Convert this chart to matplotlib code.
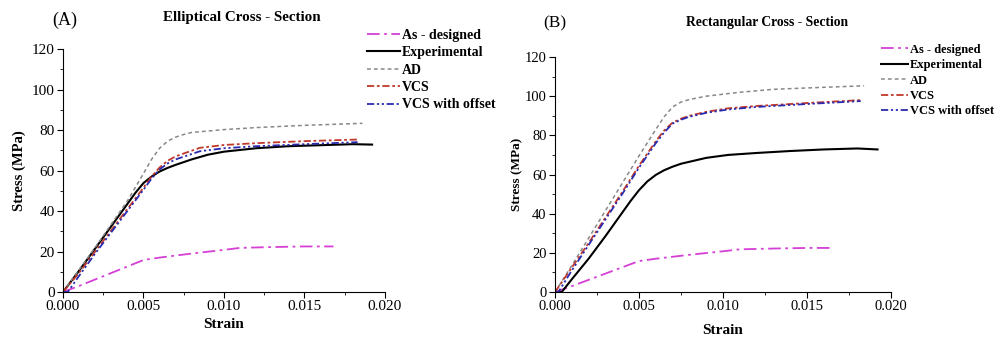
import matplotlib
matplotlib.use("Agg")
import matplotlib.pyplot as plt
from matplotlib.ticker import MultipleLocator, FormatStrFormatter

plt.rcParams['font.family'] = ['Liberation Serif', 'DejaVu Serif']

# ---- panel A : elliptical cross-section ----
a_des_x = [0, 0.001, 0.002, 0.003, 0.004, 0.005, 0.006, 0.008, 0.010, 0.011, 0.013, 0.015, 0.0168]
a_des_y = [0, 3, 6.2, 9.4, 12.6, 15.8, 17, 19, 20.8, 21.8, 22.2, 22.5, 22.5]
a_exp_x = [0, 0.001, 0.002, 0.003, 0.004, 0.0045, 0.005, 0.0055, 0.006, 0.0065, 0.007, 0.008, 0.009, 0.010,
           0.012, 0.014, 0.016, 0.018, 0.0192]
a_exp_y = [0, 10.5, 21.5, 32.5, 43.5, 49, 53.8, 57, 59.5, 61.3, 62.8, 65.5, 67.8, 69.3,
           71, 72, 72.5, 73, 72.8]
a_ad_x = [0, 0.002, 0.004, 0.005, 0.0055, 0.006, 0.0065, 0.007, 0.0075, 0.008, 0.010, 0.012, 0.015, 0.0186]
a_ad_y = [0, 22, 45, 58.5, 65.5, 71, 74.5, 76.5, 77.8, 78.8, 80.2, 81.2, 82.3, 83.3]
a_vcs_x = [0, 0.001, 0.002, 0.003, 0.004, 0.005, 0.0055, 0.006, 0.0065, 0.007, 0.0085, 0.010,
           0.012, 0.015, 0.0183]
a_vcs_y = [0, 9.5, 20, 30.5, 41, 51.5, 57, 61.5, 64.8, 67, 71.2, 72.6, 73.5, 74.5, 75.3]
a_off_x = [0, 0.0003, 0.001, 0.002, 0.003, 0.004, 0.005, 0.0055, 0.006, 0.0065, 0.007, 0.0085, 0.010,
           0.012, 0.015, 0.0183]
a_off_y = [0, 0, 8, 19, 29.5, 40, 50.5, 56, 60.5, 63.5, 65.5, 69.5, 71, 72, 73, 74]

# ---- panel B : rectangular cross-section ----
b_des_x = [0, 0.001, 0.002, 0.003, 0.004, 0.005, 0.006, 0.008, 0.010, 0.011, 0.013, 0.015, 0.0165]
b_des_y = [0, 3, 6.2, 9.4, 12.6, 15.8, 17, 19, 20.8, 21.8, 22.2, 22.5, 22.5]
b_exp_x = [0, 0.0004, 0.001, 0.002, 0.003, 0.004, 0.0045, 0.005, 0.0055, 0.006, 0.0065, 0.007, 0.0075,
           0.009, 0.0103, 0.012, 0.014, 0.016, 0.018, 0.0192]
b_exp_y = [0, 0, 6.5, 17, 28.5, 40.5, 46.5, 52, 56.5, 59.8, 62.2, 64, 65.5, 68.5, 70, 71, 72,
           72.8, 73.3, 72.8]
b_ad_x = [0, 0.001, 0.002, 0.003, 0.004, 0.005, 0.006, 0.0065, 0.007, 0.0075, 0.008, 0.009, 0.011,
          0.013, 0.015, 0.0184]
b_ad_y = [0, 13.5, 27.5, 41.5, 55.5, 69.5, 83, 89.5, 94.5, 97, 98.3, 100, 102, 103.5, 104.2, 105.3]
b_vcs_x = [0, 0.001, 0.002, 0.003, 0.004, 0.005, 0.006, 0.0065, 0.007, 0.0075, 0.008, 0.009, 0.0103,
           0.012, 0.015, 0.0182]
b_vcs_y = [0, 12.5, 25, 38, 51, 64.5, 77, 82.5, 86.5, 88.5, 90, 92, 93.8, 95, 96.5, 98]
b_off_x = [0, 0.0002, 0.001, 0.002, 0.003, 0.004, 0.005, 0.006, 0.0065, 0.007, 0.0075, 0.008, 0.009,
           0.0103, 0.012, 0.015, 0.0182]
b_off_y = [0, 0, 11, 24, 37, 50, 63.5, 76, 81.5, 86, 88, 89.5, 91.5, 93.2, 94.5, 96, 97.5]

labels = ['As - designed', 'Experimental', 'AD', 'VCS', 'VCS with offset']

fig = plt.figure(figsize=(10.08, 3.37), dpi=100)
axA = fig.add_axes([0.0625, 0.1335, 0.3194, 0.7211])
axB = fig.add_axes([0.5506, 0.1335, 0.3333, 0.6973])


def draw(ax, des, exp, ad, vcs, off, tick_fs, ylab_fs, ylab_pad):
    ax.plot(*des, color='#d63fd6', lw=1.3, dashes=(7, 2.5, 1.5, 2.5))
    ax.plot(*exp, color='black', lw=1.5)
    ax.plot(*ad, color='#888888', lw=1.1, dashes=(2.5, 2))
    ax.plot(*vcs, color='#c0392b', lw=1.3, dashes=(4, 1.5, 1.5, 1.5))
    ax.plot(*off, color='#2a2ab0', lw=1.3, dashes=(4, 1.5, 1.2, 1.5, 1.2, 1.5))
    ax.set_xlim(0, 0.020)
    ax.set_ylim(0, 120)
    ax.xaxis.set_major_locator(MultipleLocator(0.005))
    ax.xaxis.set_minor_locator(MultipleLocator(0.0025))
    ax.yaxis.set_major_locator(MultipleLocator(20))
    ax.yaxis.set_minor_locator(MultipleLocator(10))
    ax.xaxis.set_major_formatter(FormatStrFormatter('%.3f'))
    for s in ('top', 'right'):
        ax.spines[s].set_visible(False)
    ax.tick_params(which='both', direction='out', labelsize=tick_fs, pad=2)
    ax.tick_params(which='major', length=4)
    ax.tick_params(which='minor', length=2.5)
    ax.set_xlabel('Strain', fontweight='bold', fontsize=11, labelpad=3)
    ax.set_ylabel('Stress (MPa)', fontweight='bold', fontsize=ylab_fs, labelpad=ylab_pad)


draw(axA, (a_des_x, a_des_y), (a_exp_x, a_exp_y), (a_ad_x, a_ad_y),
     (a_vcs_x, a_vcs_y), (a_off_x, a_off_y), 11, 10.5, 4)
draw(axB, (b_des_x, b_des_y), (b_exp_x, b_exp_y), (b_ad_x, b_ad_y),
     (b_vcs_x, b_vcs_y), (b_off_x, b_off_y), 10.5, 9.5, 1)
axB.xaxis.labelpad = 8

axA.legend(axA.lines, labels, loc='upper left', bbox_to_anchor=(0.364, 0.915),
           bbox_transform=fig.transFigure, frameon=False, prop={'weight': 'bold', 'size': 10},
           handlelength=2.4, handletextpad=0.1, labelspacing=0.32, borderpad=0, borderaxespad=0)
axB.legend(axB.lines, labels, loc='upper left', bbox_to_anchor=(0.874, 0.87),
           bbox_transform=fig.transFigure, frameon=False, prop={'weight': 'bold', 'size': 9},
           handlelength=2.2, handletextpad=0.1, labelspacing=0.27, borderpad=0, borderaxespad=0)

fig.text(0.052, 0.94, '(A)', fontsize=13, ha='left', va='center')
fig.text(0.240, 0.948, 'Elliptical Cross - Section', fontsize=10.8, fontweight='bold', ha='center', va='center')
fig.text(0.539, 0.932, '(B)', fontsize=12.5, ha='left', va='center')
fig.text(0.761, 0.933, 'Rectangular Cross - Section', fontsize=9.8, fontweight='bold', ha='center', va='center')

fig.savefig('out.png', dpi=100)
